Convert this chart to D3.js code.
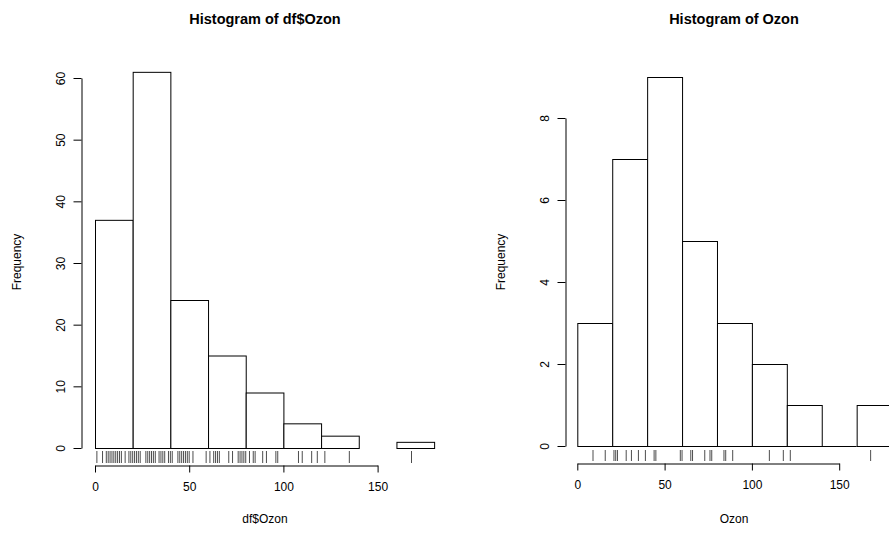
<!DOCTYPE html>
<html>
<head>
<meta charset="utf-8">
<script src="https://cdn.jsdelivr.net/npm/d3@7"></script>
<style>
  body { margin: 0; background: #fff; }
  text { font-family: "Liberation Sans", Arial, sans-serif; fill: #000; }
</style>
</head>
<body>
<div id="chart"></div>
<script>
// bins used by both histograms
var breaks = [0, 20, 40, 60, 80, 100, 120, 140, 160, 180];
var xTicks = [0, 50, 100, 150];

// left panel: df$Ozon
var countsDf = [37, 61, 24, 15, 9, 4, 2, 0, 1];
var yTicksDf = [0, 10, 20, 30, 40, 50, 60];
var rugDf = [1, 4, 6, 7, 8, 9, 10, 11, 12, 13, 14, 16, 18, 19, 20, 21, 22, 23, 24,
  27, 28, 29, 30, 31, 32, 34, 35, 36, 37, 39, 40, 41, 44, 45, 46, 47, 48, 49, 50,
  52, 59, 61, 63, 64, 65, 66, 71, 73, 76, 77, 78, 79, 80, 82, 84, 85, 89, 91, 96,
  97, 108, 110, 115, 118, 122, 135, 168];

// right panel: Ozon
var countsOz = [3, 7, 9, 5, 3, 2, 1, 0, 1];
var yTicksOz = [0, 2, 4, 6, 8];
var rugOz = [9, 16, 21, 22, 23, 28, 31, 35, 39, 44, 45, 59, 60, 65, 66, 73, 76, 77,
  84, 85, 89, 110, 118, 122, 168];

var W = 889, H = 537;

var svg = d3
  .select("#chart")
  .append("svg")
  .attr("width", W)
  .attr("height", H);

function drawHist(cfg) {
  var bins = cfg.counts.map(function (c, i) {
    return { x0: breaks[i], x1: breaks[i + 1], n: c };
  });

  var x = d3.scaleLinear().domain([0, 150]).range(cfg.xRange);
  var y = d3.scaleLinear().domain(cfg.yDomain).range(cfg.yRange);

  var g = svg.append("g");

  // bars
  g.selectAll("rect.bar")
    .data(bins.filter(function (d) { return d.n > 0; }))
    .enter()
    .append("rect")
    .attr("class", "bar")
    .attr("x", function (d) { return x(d.x0) + 0.5; })
    .attr("y", function (d) { return y(d.n) + 0.5; })
    .attr("width", function (d) { return x(d.x1) - x(d.x0); })
    .attr("height", function (d) { return y(0) - y(d.n); })
    .style("fill", "#fff")
    .style("stroke", "#000")
    .style("stroke-width", 1);

  // empty bins show as a flat line in the right panel
  if (cfg.emptyLine) {
    g.selectAll("line.empty")
      .data(bins.filter(function (d) { return d.n === 0; }))
      .enter()
      .append("line")
      .attr("x1", function (d) { return x(d.x0); })
      .attr("x2", function (d) { return x(d.x1); })
      .attr("y1", y(0) + 0.5)
      .attr("y2", y(0) + 0.5)
      .style("stroke", "#000");
  }

  // rug
  g.selectAll("line.rug")
    .data(cfg.rug)
    .enter()
    .append("line")
    .attr("class", "rug")
    .attr("x1", function (d) { return x(d); })
    .attr("x2", function (d) { return x(d); })
    .attr("y1", cfg.rugY[0])
    .attr("y2", cfg.rugY[1])
    .style("stroke", "#000")
    .style("stroke-width", 0.7);

  // x axis
  var xa = g.append("g")
    .attr("transform", "translate(0," + (cfg.axisY + 0.5) + ")")
    .call(d3.axisBottom(x).tickValues(xTicks).tickSize(7).tickPadding(10).tickSizeOuter(0));
  xa.select(".domain").attr("stroke", "#000");
  xa.selectAll("text").style("font-size", "12px");

  // y axis
  var ya = g.append("g")
    .attr("transform", "translate(" + (cfg.axisX + 0.5) + ",0)")
    .call(d3.axisLeft(y).tickValues(cfg.yTicks).tickSize(8).tickSizeOuter(0));
  ya.select(".domain").attr("stroke", "#000");
  ya.selectAll(".tick text")
    .style("font-size", "12px")
    .attr("x", null)
    .attr("dy", null)
    .attr("text-anchor", "middle")
    .attr("transform", "translate(-17,0) rotate(-90)");

  // title
  svg.append("text")
    .attr("x", cfg.cx)
    .attr("y", 24)
    .attr("text-anchor", "middle")
    .style("font-size", "14.5px")
    .style("font-weight", "bold")
    .text(cfg.title);

  // x label
  svg.append("text")
    .attr("x", cfg.cx)
    .attr("y", 523)
    .attr("text-anchor", "middle")
    .style("font-size", "12px")
    .text(cfg.xlab);

  // y label
  svg.append("text")
    .attr("transform", "translate(" + cfg.ylabX + ",262) rotate(-90)")
    .attr("text-anchor", "middle")
    .style("font-size", "12px")
    .text("Frequency");
}

drawHist({
  counts: countsDf,
  rug: rugDf,
  yTicks: yTicksDf,
  yDomain: [0, 60],
  yRange: [448, 78],
  xRange: [95, 377.6],
  axisX: 81,
  axisY: 465,
  rugY: [451, 463],
  cx: 265,
  ylabX: 21,
  emptyLine: false,
  title: "Histogram of df$Ozon",
  xlab: "df$Ozon"
});

drawHist({
  counts: countsOz,
  rug: rugOz,
  yTicks: yTicksOz,
  yDomain: [0, 8],
  yRange: [446, 118],
  xRange: [577.3, 839.2],
  axisX: 565,
  axisY: 463,
  rugY: [450, 461],
  cx: 734,
  ylabX: 505,
  emptyLine: true,
  title: "Histogram of Ozon",
  xlab: "Ozon"
});
</script>
</body>
</html>
